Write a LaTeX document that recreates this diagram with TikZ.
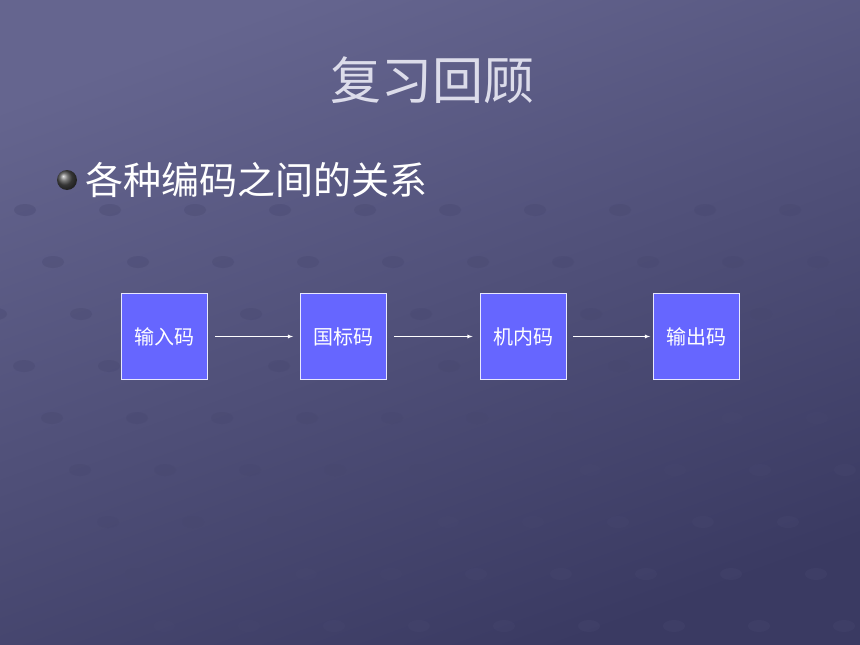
\documentclass[tikz,border=0pt]{standalone}
\usepackage{fontspec}
\usepackage{tikz}
\usetikzlibrary{positioning}
\newfontfamily\cjk{Noto Sans CJK SC}

\definecolor{bgtop}{HTML}{65658F}
\definecolor{bgbot}{HTML}{3A3A62}
\definecolor{boxfill}{HTML}{6666FF}
\definecolor{titlegray}{HTML}{DCDCEA}

\tikzset{
    codebox/.style={draw=white!85!boxfill, line width=0.8pt, fill=boxfill, minimum width=86pt, minimum height=86pt, inner sep=0pt, font=\cjk\fontsize{20}{20}\selectfont, text=white},
    flow/.style={draw=white, line width=0.8pt, -latex}
}

\begin{document}
\begin{tikzpicture}[x=1pt,y=-1pt]
        % Background
        \shade [top color=bgtop, bottom color=bgbot, shading angle=20] (0,0) rectangle (860,645);
        \useasboundingbox (0,0) rectangle (860,645);
        % Faint dots (can be commented out)
        \foreach \i in {0,...,11} {
            \foreach \j in {0,...,8} {
                \fill [bgbot!70!bgtop, opacity=0.35] (-60+85*\i+28*\j, 210+52*\j) ellipse (11pt and 6pt);
            }
        }
        % Title
        \node [text=titlegray] (title) at (432,80) {\cjk\fontsize{51}{51}\selectfont 复习回顾};
        % Bullet
        \shade [ball color=gray!60!black] (67,180) circle (10pt);
        \node [anchor=west, text=white, inner sep=0pt] (head) at (85,180) {\cjk\fontsize{38}{38}\selectfont 各种编码之间的关系};
        % Codes
        \node [codebox] (input) at (164.5,336.5) {输入码};
        \node [codebox] (gb) at (343.5,336.5) {国标码};
        \node [codebox] (inner) at (523,336.5) {机内码};
        \node [codebox] (output) at (696.5,336.5) {输出码};
        \draw [flow] ([xshift=7pt]input.east) -- ([xshift=-7pt]gb.west);
        \draw [flow] ([xshift=7pt]gb.east) -- ([xshift=-7pt]inner.west);
        \draw [flow] ([xshift=7pt]inner.east) -- ([xshift=-3pt]output.west);
    \end{tikzpicture}
\end{document}
